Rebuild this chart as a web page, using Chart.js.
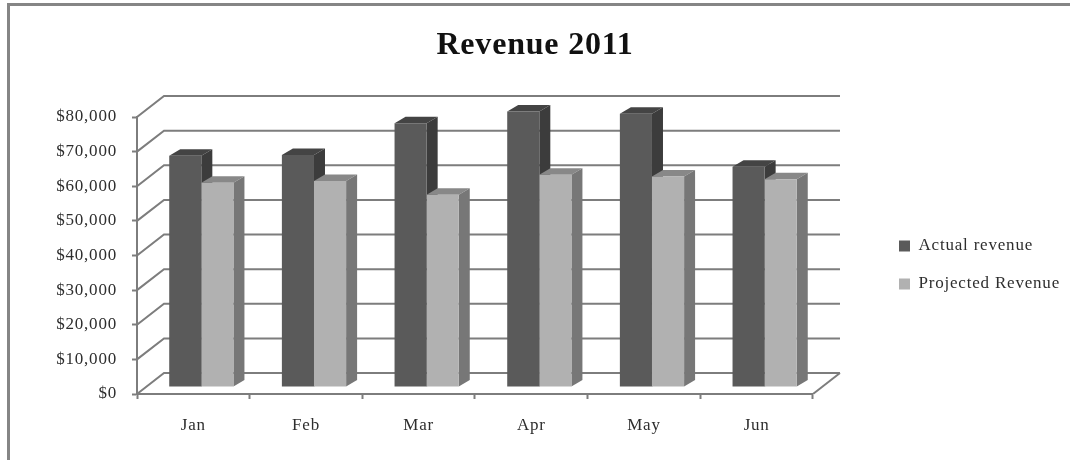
<!DOCTYPE html>
<html>
<head>
<meta charset="utf-8">
<title>Revenue 2011</title>
<script src="https://cdn.jsdelivr.net/npm/chart.js@4"></script>
<style>
	html, body { margin: 0; padding: 0; background: #fff; }
	canvas { display: block; }
</style>
</head>
<body>
<canvas id="revenue-chart" width="1070" height="460"></canvas>
<script>
const categories = ["Jan", "Feb", "Mar", "Apr", "May", "Jun"];
const actualRevenue = [66800, 67000, 76200, 79600, 78900, 63600];
const projectedRevenue = [59000, 59500, 55500, 61300, 60800, 60000];

const fontFamily = "'Liberation Serif', serif";
const textColor = "#2e2e2e";
const axisColor = "#7d7d7d";

// depth of the back wall, and where the bars stand on the floor
const wallDepth = { x: 27, y: 21 };
const barShift = { x: 8, y: 7 };
const barDepth = { x: 11, y: 6.5 };

const actualFaces = { front: "#5a5a5a", side: "#3c3c3c", top: "#444444" };
const projectedFaces = { front: "#b1b1b1", side: "#777777", top: "#888888" };

// walls and floor, drawn behind the bars
function drawWalls(chart) {
	const ctx = chart.ctx;
	const area = chart.chartArea;
	const y = chart.scales.y;

	ctx.save();
	ctx.strokeStyle = axisColor;
	ctx.lineWidth = 2;
	y.ticks.forEach((tick) => {
		const py = y.getPixelForValue(tick.value);
		ctx.beginPath();
		ctx.moveTo(area.left, py);
		ctx.lineTo(area.left + wallDepth.x, py - wallDepth.y);
		ctx.lineTo(area.right + wallDepth.x, py - wallDepth.y);
		ctx.stroke();
	});
	// right edge of the floor
	ctx.beginPath();
	ctx.moveTo(area.right, area.bottom);
	ctx.lineTo(area.right + wallDepth.x, area.bottom - wallDepth.y);
	ctx.stroke();
	ctx.restore();
}

// top and side of each bar; the front face is left to the bar element
function drawBarFaces(chart, datasetIndex, faces) {
	const ctx = chart.ctx;
	chart.getDatasetMeta(datasetIndex).data.forEach((bar) => {
		const p = bar.getProps(["x", "y", "base", "width"], true);
		const left = p.x - p.width / 2 + barShift.x;
		const right = p.x + p.width / 2 + barShift.x;
		const top = p.y - barShift.y;
		const base = p.base - barShift.y;

		ctx.fillStyle = faces.top;
		ctx.beginPath();
		ctx.moveTo(left, top);
		ctx.lineTo(left + barDepth.x, top - barDepth.y);
		ctx.lineTo(right + barDepth.x, top - barDepth.y);
		ctx.lineTo(right, top);
		ctx.closePath();
		ctx.fill();

		ctx.fillStyle = faces.side;
		ctx.beginPath();
		ctx.moveTo(right, top);
		ctx.lineTo(right + barDepth.x, top - barDepth.y);
		ctx.lineTo(right + barDepth.x, base - barDepth.y);
		ctx.lineTo(right, base);
		ctx.closePath();
		ctx.fill();
	});
}

const depthPlugin = {
	id: "depth",
	beforeUpdate(chart) {
		chart.ctx.letterSpacing = "0.8px";
	},
	afterLayout(chart) {
		// title stays centred on the whole canvas, legend moves into the right margin
		chart.titleBlock.left = 0;
		chart.titleBlock.right = chart.width;

		const legend = chart.legend;
		legend.left += 65;
		legend.right += 65;
		legend.top += 35;
		legend.bottom += 35;
	},
	beforeDraw(chart) {
		const ctx = chart.ctx;
		ctx.letterSpacing = "0.8px";
		// frame around the chart, only top and left are visible
		ctx.save();
		ctx.strokeStyle = "#858585";
		ctx.lineWidth = 3;
		ctx.beginPath();
		ctx.moveTo(8.5, 460);
		ctx.lineTo(8.5, 4.5);
		ctx.lineTo(1070, 4.5);
		ctx.stroke();
		ctx.restore();
	},
	beforeDatasetsDraw(chart) {
		drawWalls(chart);
		drawBarFaces(chart, 0, actualFaces);
		drawBarFaces(chart, 1, projectedFaces);
		chart.ctx.save();
		chart.ctx.translate(barShift.x, -barShift.y);
	},
	afterDatasetsDraw(chart) {
		chart.ctx.restore();
	}
};

new Chart(document.getElementById("revenue-chart"), {
	type: "bar",
	data: {
		labels: categories,
		datasets: [
			{
				label: "Actual revenue",
				data: actualRevenue,
				backgroundColor: actualFaces.front
			},
			{
				label: "Projected Revenue",
				data: projectedRevenue,
				backgroundColor: projectedFaces.front
			}
		]
	},
	options: {
		responsive: false,
		animation: false,
		devicePixelRatio: 1,
		categoryPercentage: 0.57,
		barPercentage: 1,
		layout: {
			padding: { left: 20, right: 65, top: 0, bottom: 0 }
		},
		plugins: {
			title: {
				display: true,
				text: "Revenue 2011",
				color: "#111",
				font: { family: fontFamily, size: 32, weight: "bold" },
				padding: { top: 27, bottom: 51.6 }
			},
			legend: {
				position: "right",
				labels: {
					color: textColor,
					font: { family: fontFamily, size: 17 },
					boxWidth: 11,
					boxHeight: 11,
					padding: 21
				}
			},
			tooltip: { enabled: false }
		},
		scales: {
			x: {
				grid: { drawOnChartArea: false, color: axisColor, tickLength: 5, tickWidth: 2 },
				border: { color: axisColor, width: 2 },
				ticks: {
					color: textColor,
					font: { family: fontFamily, size: 17 },
					padding: 16,
					maxRotation: 0
				},
				afterFit(scale) { scale.height = 66; }
			},
			y: {
				min: 0,
				max: 80000,
				grid: { drawOnChartArea: false, color: axisColor, tickLength: 5, tickWidth: 2 },
				border: { color: axisColor, width: 2 },
				ticks: {
					stepSize: 10000,
					color: textColor,
					font: { family: fontFamily, size: 17 },
					padding: 15,
					callback: (value) => "$" + value.toLocaleString("en-US")
				},
				afterFit(scale) { scale.width = 117; }
			}
		}
	},
	plugins: [depthPlugin]
});
</script>
</body>
</html>
